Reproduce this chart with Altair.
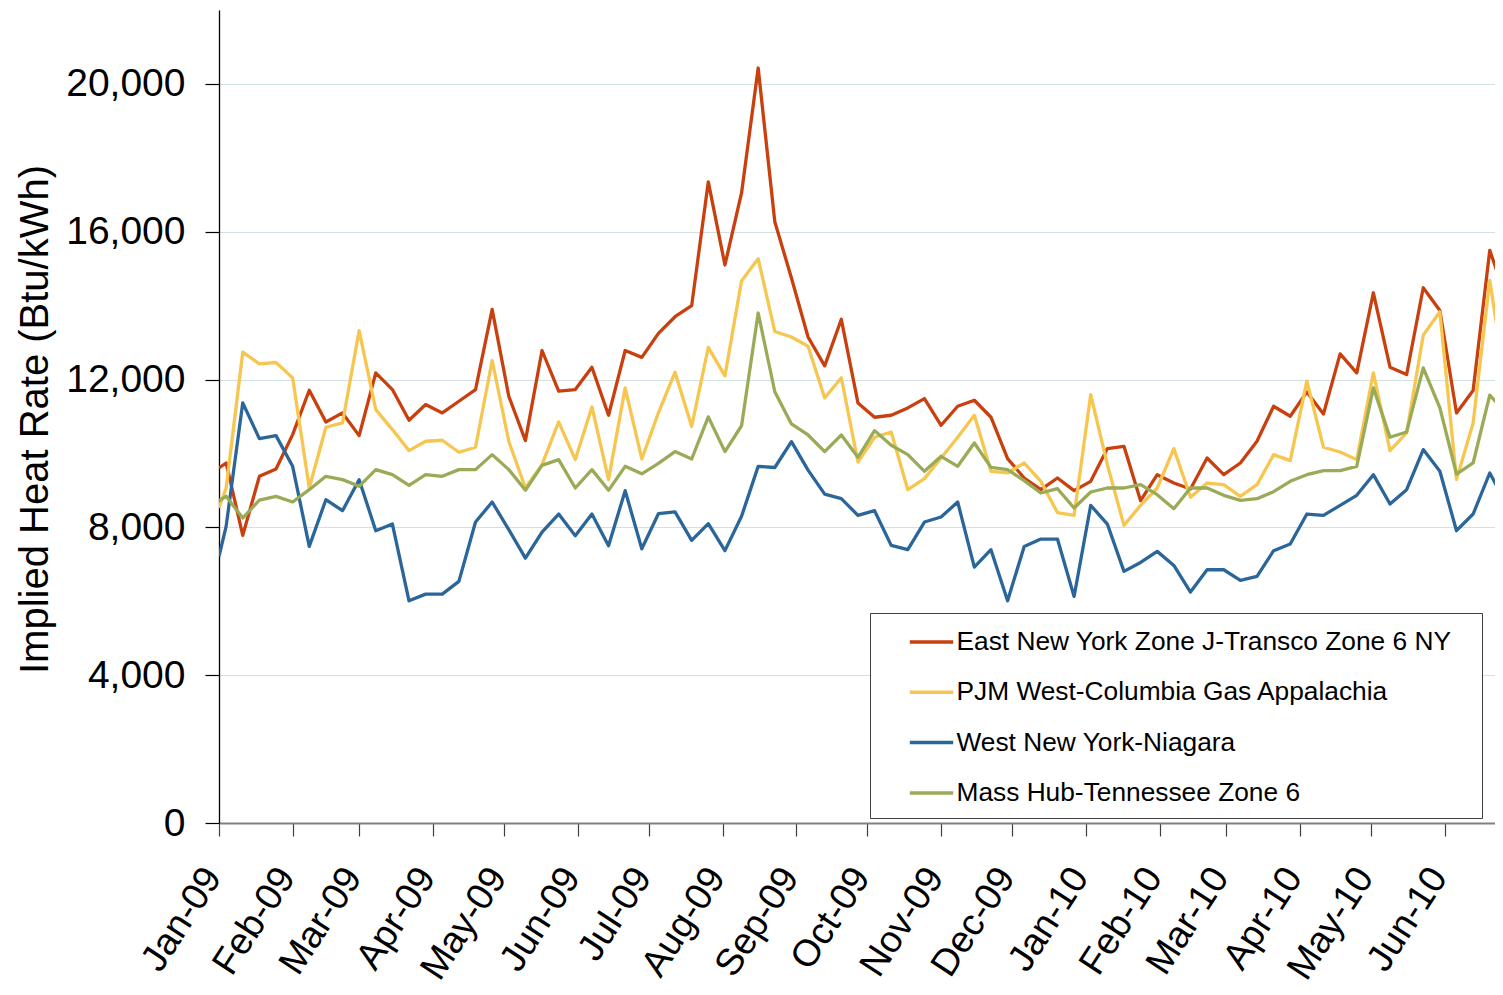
import altair as alt
import pandas as pd

series_names = [
    "East New York Zone J-Transco Zone 6 NY",
    "PJM West-Columbia Gas Appalachia",
    "West New York-Niagara",
    "Mass Hub-Tennessee Zone 6",
]
series_colors = ["#C9400F", "#F6C650", "#2A6699", "#9AAB57"]

# first observation on Jan 1, then weekly observations
first_date = ["2009-01-01"]
weekly_dates = [d.strftime("%Y-%m-%d") for d in pd.date_range("2009-01-04", periods=78, freq="7D")]
dates = first_date + weekly_dates

east_ny = [9607, 9742, 7783, 9381, 9580, 10510, 11711, 10853, 11097, 10483, 12181, 11729, 10898,
           11323, 11097, 11413, 11729, 13900, 11548, 10347, 12786, 11684, 11729, 12334, 11034,
           12786, 12600, 13250, 13700, 14000, 17350, 15100, 17050, 20430, 16270, 14750, 13150,
           12370, 13630, 11368, 10980, 11034, 11232, 11485, 10763, 11278, 11440, 10980, 9860,
           9336, 9020, 9336, 8993, 9246, 10131, 10194, 8722, 9426, 9200, 9038, 9878, 9426, 9742,
           10330, 11278, 11007, 11666, 11070, 12695, 12181, 14348, 12334, 12135, 14483, 13869,
           11097, 11702, 15495, 14194]
pjm_west = [8523, 9065, 12740, 12424, 12461, 12045, 9065, 10709, 10826, 13324, 11187, 10646, 10077,
            10330, 10357, 10032, 10167, 12515, 10330, 9065, 9697, 10853, 9833, 11260, 9291,
            11774, 9850, 11100, 12200, 10730, 12870, 12100, 14670, 15270, 13300, 13150, 12900,
            11500, 12050, 9770, 10438, 10582, 9020, 9318, 9878, 10438, 11034, 9517, 9472,
            9742, 9245, 8400, 8325, 11594, 9697, 8054, 8596, 9065, 10131, 8813, 9200, 9155, 8840,
            9155, 9968, 9806, 11955, 10167, 10040, 9833, 12181, 10077, 10555, 13201, 13833,
            9291, 10826, 14682, 11774]
west_ny = [7214, 8027, 11368, 10402, 10483, 9652, 7485, 8749, 8451, 9291, 7910, 8090, 6013,
           6194, 6194, 6537, 8144, 8686, 7937, 7169, 7874, 8361, 7774, 8361, 7503,
           8993, 7420, 8370, 8420, 7650, 8100, 7370, 8300, 9650, 9620, 10320, 9550,
           8900, 8780, 8325, 8451, 7512, 7395, 8144, 8280, 8686, 6925, 7395, 6013,
           7485, 7684, 7684, 6131, 8596, 8090, 6808, 7051, 7350, 6970, 6248, 6853, 6853, 6564,
           6672, 7368, 7549, 8361, 8325, 8596, 8867, 9426, 8632, 9020, 10104, 9517,
           7910, 8361, 9471, 8632]
mass_hub = [8722, 8840, 8253, 8740, 8840, 8686, 9020, 9381, 9291, 9110, 9562, 9426, 9137,
            9426, 9381, 9562, 9562, 9968, 9562, 9002, 9679, 9833, 9065, 9562, 9002,
            9652, 9450, 9730, 10050, 9850, 10990, 10050, 10750, 13800, 11670, 10800, 10500,
            10050, 10500, 9896, 10618, 10221, 9968, 9517, 9923, 9652, 10284, 9625, 9562,
            9264, 8930, 9047, 8523, 8957, 9065, 9065, 9155, 8885, 8505, 9065, 9065, 8867, 8731,
            8776, 8966, 9246, 9426, 9535, 9535, 9652, 11774, 10438, 10582, 12316, 11232,
            9444, 9742, 11576, 11097]

y_ticks = [0, 4000, 8000, 12000, 16000, 20000]
month_ticks = [(2009, m) for m in range(1, 13)] + [(2010, m) for m in range(1, 7)]

rows = []
for name, vals in zip(series_names, [east_ny, pjm_west, west_ny, mass_hub]):
    for d, v in zip(dates, vals):
        rows.append({"date": d, "value": v, "series": name})
df = pd.DataFrame(rows)

FONT = "Liberation Sans"

x_enc = alt.X(
    "date:T",
    scale=alt.Scale(
        type="utc",
        domain=[alt.DateTime(year=2009, month=1, date=1, utc=True),
                alt.DateTime(year=2010, month=6, date=22, hours=5, utc=True)],
    ),
    axis=alt.Axis(
        values=[alt.DateTime(year=y, month=m, date=1, utc=True) for y, m in month_ticks],
        labelExpr="utcFormat(datum.value, '%b-%y')",
        title=None,
        grid=False,
        domainColor="#808080",
        domainWidth=2,
        tickColor="#404040",
        tickSize=13,
        tickWidth=1.2,
        labelAngle=-57,
        labelAlign="right",
        labelBaseline="middle",
        labelFont=FONT,
        labelFontSize=37.5,
        labelColor="black",
        labelPadding=35,
        labelOffset=-6,
        labelOverlap=False,
        labelBound=False,
        labelFlush=False,
    ),
)

y_enc = alt.Y(
    "value:Q",
    scale=alt.Scale(domain=[0, 22000], nice=False, zero=True),
    axis=alt.Axis(
        values=y_ticks,
        format=",d",
        title="Implied Heat Rate (Btu/kWh)",
        titleFont=FONT,
        titleFontSize=40,
        titleFontWeight="normal",
        titleColor="black",
        titleX=-172,
        titleY=409,
        titleAngle=270,
        titleAlign="center",
        titleBaseline="alphabetic",
        labelFont=FONT,
        labelFontSize=39,
        labelColor="black",
        labelPadding=20,
        tickSize=14,
        tickColor="black",
        tickWidth=1.2,
        domainColor="black",
        domainWidth=1.3,
        grid=True,
        gridColor="#CFE1E4",
        gridWidth=1,
    ),
)

color_enc = alt.Color(
    "series:N",
    scale=alt.Scale(domain=series_names, range=series_colors),
    legend=alt.Legend(
        orient="none",
        legendX=651,
        legendY=603,
        title=".",
        titleOrient="right",
        titleColor="white",
        titleFontSize=10,
        titlePadding=15.5,
        direction="vertical",
        symbolType="M-1.4,0H1.4",
        symbolSize=961,
        symbolStrokeWidth=3.5,
        symbolOffset=32.5,
        labelOffset=7.5,
        labelFont=FONT,
        labelFontSize=26.3,
        labelColor="black",
        labelLimit=1000,
        padding=11.5,
        rowPadding=19.3,
        strokeColor="#404040",
        fillColor="white",
    ),
)

chart = (
    alt.Chart(df)
    .mark_line(strokeWidth=3.3, strokeJoin="round", clip=True)
    .encode(x=x_enc, y=y_enc, color=color_enc)
    .properties(
        width=1276,
        height=813,
        padding={"left": 211, "top": 2, "right": 0, "bottom": 164},
        autosize=alt.AutoSizeParams(type="none"),
        background="white",
    )
    .configure_view(stroke=None)
)

chart.save("out.html", embed_options={"renderer": "svg", "actions": False})
